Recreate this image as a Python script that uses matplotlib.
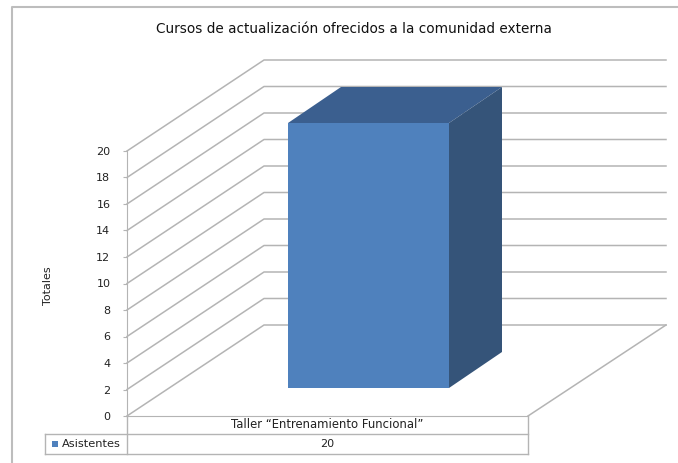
import matplotlib
matplotlib.use("Agg")
import matplotlib.pyplot as plt
from matplotlib.patches import Polygon, Rectangle

# datos
categorias = ['Taller \u201cEntrenamiento Funcional\u201d']
serie = 'Asistentes'
valores = [20]
ticks = list(range(0, 22, 2))

W, H = 678, 463
GRIS = '#b4b4b4'
TEXTO = '#222222'

fig = plt.figure(figsize=(W / 100, H / 100), dpi=100)

# ejes en la cara frontal del grafico 3D (pixeles de la imagen)
x0, x1, y0, y20 = 127, 528, 416, 151
ax = fig.add_axes([x0 / W, 1 - y0 / H, (x1 - x0) / W, (y0 - y20) / H])
ax.patch.set_alpha(0)
ax.set_xlim(0, 1)
ax.set_ylim(0, 20)
for s in ['top', 'right']:
    ax.spines[s].set_visible(False)
ax.spines['left'].set_color(GRIS)
ax.spines['bottom'].set_color(GRIS)
ax.set_xticks([])
ax.set_yticks(ticks)
ax.tick_params(axis='y', length=3, color=GRIS, labelsize=8, labelcolor=TEXTO, pad=9)
ax.set_ylabel('Totales', fontsize=8, color=TEXTO)
ax.yaxis.set_label_coords(-0.185, 0.49)

# profundidad oblicua en unidades de los ejes
px = x1 - x0
uy = (y0 - y20) / 20
prof_x = 137 / px
prof_y = 91 / uy
fin_pared = 539 / px

# paredes: lineas de rejilla
for t in ticks:
    ax.plot([0, prof_x, fin_pared], [t, t + prof_y, t + prof_y],
            color=GRIS, lw=1.1, clip_on=False, zorder=1)
# suelo
ax.plot([1, fin_pared], [0, prof_y], color=GRIS, lw=1.1, clip_on=False, zorder=1)

# barra
izq, der = 161 / px, 322 / px
base = 28 / uy
dx, dy = 53 / px, 36 / uy
for v in valores:
    ax.add_patch(Rectangle((izq, base), der - izq, v, fc='#4f81bd', ec='none', clip_on=False, zorder=3))
    ax.add_patch(Polygon([(izq, base + v), (der, base + v), (der + dx, base + v + dy), (izq + dx, base + v + dy)],
                         fc='#3b5f8f', ec='none', clip_on=False, zorder=3))
    ax.add_patch(Polygon([(der, base), (der + dx, base + dy), (der + dx, base + v + dy), (der, base + v)],
                         fc='#355479', ec='none', clip_on=False, zorder=3))

# tabla de datos
ty1 = -18 / uy
ty2 = -38 / uy
xt = -82 / px
ax.plot([xt, 1], [ty1, ty1], color=GRIS, lw=1, clip_on=False)
ax.plot([xt, 1], [ty2, ty2], color=GRIS, lw=1, clip_on=False)
ax.plot([xt, xt], [ty1, ty2], color=GRIS, lw=1, clip_on=False)
ax.plot([0, 0], [0, ty2], color=GRIS, lw=1, clip_on=False)
ax.plot([1, 1], [0, ty2], color=GRIS, lw=1, clip_on=False)
ax.text(0.5, ty1 / 2, categorias[0], ha='center', va='center', fontsize=8.4, color=TEXTO, clip_on=False)
ax.text(0.5, (ty1 + ty2) / 2, str(valores[0]), ha='center', va='center', fontsize=8, color=TEXTO, clip_on=False)
ax.add_patch(Rectangle((-75 / px, (ty1 + ty2) / 2 - 3 / uy), 6 / px, 6 / uy, fc='#4f81bd', ec='none', clip_on=False))
ax.text(-65 / px, (ty1 + ty2) / 2, serie, ha='left', va='center', fontsize=8.2, color=TEXTO, clip_on=False)

fig.text(354 / W, 1 - 29 / H, 'Cursos de actualizaci\u00f3n ofrecidos a la comunidad externa',
         ha='center', va='center', fontsize=9.8, color='#111111')

# marco del grafico: solo arriba e izquierda se ven en la captura
fig.add_artist(plt.Line2D([12 / W, 12 / W, 1], [0, 1 - 7 / H, 1 - 7 / H], transform=fig.transFigure,
                          color='#bdbdbd', lw=1.5))

fig.savefig('out.png', dpi=100)
